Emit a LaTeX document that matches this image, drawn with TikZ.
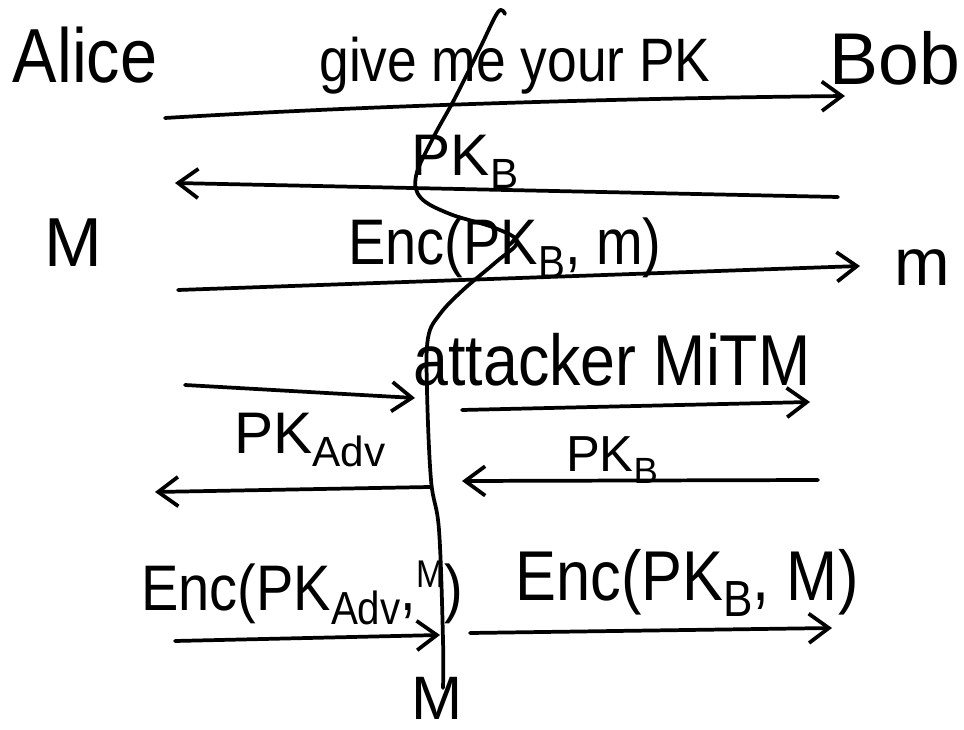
\documentclass[tikz,border=0pt]{standalone}
\usepackage{fontspec}
\setmainfont{Liberation Sans}
\usetikzlibrary{arrows.meta}
\newcommand\lowsub[1]{\raisebox{-0.22em}{\scalebox{0.72}{#1}}}
\newcommand\hisup[1]{\raisebox{0.35em}{\scalebox{0.6}{#1}}}
\newcommand\tall[1]{\scalebox{1}[1.15]{#1}}
\begin{document}
\begin{tikzpicture}[x=0.75pt,y=-0.75pt,
  ink/.style={line width=2.8pt,line cap=round,line join=round},
  msg/.style={ink,-{Straight Barb[length=15pt,width=22pt,line width=2.8pt]}},
  lbl/.style={inner sep=0pt,anchor=center},
]
\useasboundingbox (0,0) rectangle (964,730);
\fill[white] (0,0) rectangle (964,730);

% parties
\node[lbl,font=\fontsize{50}{50}\selectfont] (alice) at (85,55) {\tall{Alice}};
\node[lbl,font=\fontsize{55}{55}\selectfont] (bob) at (895,58) {Bob};
\node[lbl,font=\fontsize{52}{52}\selectfont] (mleft) at (73,243) {M};
\node[lbl,font=\fontsize{50}{50}\selectfont] (mright) at (922,268) {m};

% honest exchange
\node[lbl,font=\fontsize{40}{40}\selectfont] (ask) at (515,66) {\tall{give me your PK}};
\node[lbl,font=\fontsize{44}{44}\selectfont] (pkb) at (465,162) {PK\lowsub{B}};
\node[lbl,font=\fontsize{42}{42}\selectfont] (enc) at (505,248) {\tall{Enc(PK\lowsub{B}, m)}};

\coordinate (a1) at (165,118); \coordinate (b1) at (845,96);
\coordinate (a2) at (838,197); \coordinate (b2) at (175,183);
\coordinate (a3) at (178,290); \coordinate (b3) at (860,266);
\draw[msg] (a1) .. controls (400,104) and (650,98) .. (b1);
\draw[msg] (a2) -- (b2);
\draw[msg] (a3) -- (b3);

% crossing-out stroke and the attacker's dividing line
\draw[ink] plot[smooth,tension=0.6] coordinates {(505,14) (498,12) (480,48) (455,98) (432,140) (416,176) (421,198) (450,214) (495,228) (517,242) (496,262) (463,290) (440,314) (428,338) (427,390) (431,480) (439,530) (443,640) (443,688)};

% man in the middle
\node[lbl,font=\fontsize{47}{47}\selectfont] (mitm) at (612,360) {\tall{attacker MiTM}};
\node[lbl,font=\fontsize{44}{44}\selectfont] (pkadv) at (310,440) {PK\lowsub{Adv}};
\node[lbl,font=\fontsize{38}{38}\selectfont] (pkb2) at (612,460) {PK\lowsub{B}};
\node[lbl,font=\fontsize{42}{42}\selectfont] (encadv) at (302,593) {\tall{Enc(PK\lowsub{Adv},\hisup{M})}};
\node[lbl,font=\fontsize{46}{46}\selectfont] (encb) at (687,583) {\tall{Enc(PK\lowsub{B}, M)}};
\node[lbl,font=\fontsize{46}{46}\selectfont] (mbottom) at (437,698) {M};

\coordinate (a4) at (185,385); \coordinate (b4) at (415,398);
\coordinate (a5) at (462,410); \coordinate (b5) at (810,402);
\coordinate (a6) at (818,480); \coordinate (b6) at (462,481);
\coordinate (a7) at (430,487); \coordinate (b7) at (155,492);
\coordinate (a8) at (175,641); \coordinate (b8) at (440,635);
\coordinate (a9) at (470,633); \coordinate (b9) at (832,628);
\draw[msg] (a4) -- (b4);
\draw[msg] (a5) -- (b5);
\draw[msg] (a6) -- (b6);
\draw[msg] (a7) -- (b7);
\draw[msg] (a8) -- (b8);
\draw[msg] (a9) -- (b9);
\end{tikzpicture}
\end{document}
